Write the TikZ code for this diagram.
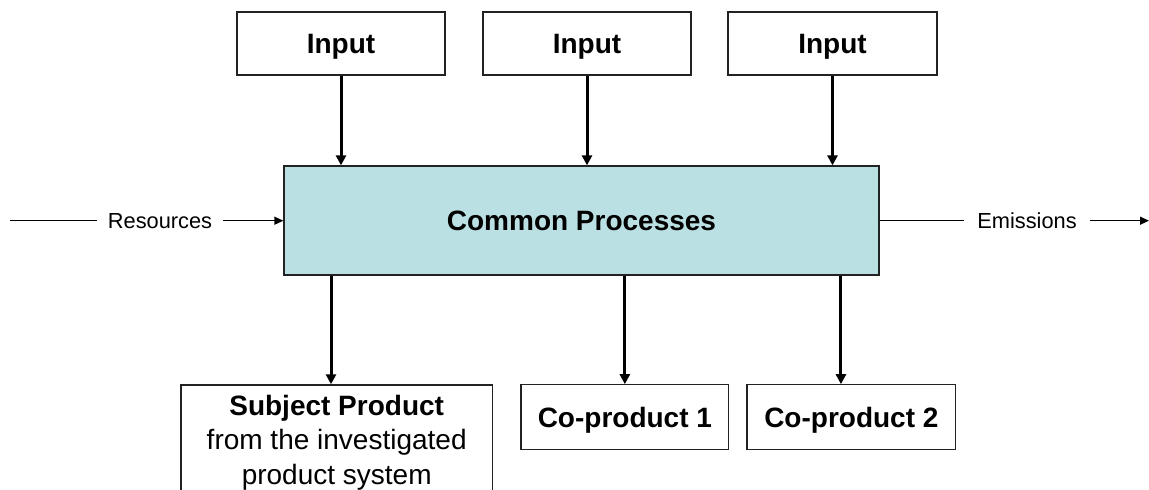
\documentclass[tikz,border=0pt]{standalone}
\usepackage{fontspec}
\setmainfont{Liberation Sans}
\usetikzlibrary{arrows.meta}
\definecolor{procfill}{HTML}{BBE0E3}
\definecolor{edge}{HTML}{222222}
\tikzset{
  box/.style={draw=edge, line width=1.3pt, fill=white, inner sep=0pt},
  boldlabel/.style={font=\fontsize{28}{35}\selectfont\bfseries},
  oneline/.style={text height=20pt, text depth=0pt},
  flowlabel/.style={font=\fontsize{21.8}{26}\selectfont, inner xsep=11pt, inner ysep=0pt},
  thickarrow/.style={line width=3pt, -{Triangle[width=10pt,length=10pt]}},
  thinline/.style={line width=1.3pt},
  thinarrow/.style={line width=1.3pt, -{Triangle[width=8pt,length=9pt]}}
}
\begin{document}
\begin{tikzpicture}[x=1pt, y=-1pt]
\useasboundingbox (0,0) rectangle (1149,490);
\clip (0,0) rectangle (1149,490);

% input boxes
\node[box, boldlabel, oneline, minimum width=208pt, minimum height=63pt] (in1) at (341,43.5) {Input};
\node[box, boldlabel, oneline, minimum width=208pt, minimum height=63pt] (in2) at (587,43.5) {Input};
\node[box, boldlabel, oneline, minimum width=209pt, minimum height=63pt] (in3) at (832.5,43.5) {Input};

% shared process
\node[box, fill=procfill, boldlabel, oneline, minimum width=595pt, minimum height=109pt] (main) at (581.5,220.5) {Common Processes};

% outputs
\node[box, minimum width=311.3pt, minimum height=130pt, anchor=north] (subj) at (336.7,384.3) {};
\node[boldlabel, align=center, anchor=north, inner sep=0pt] (subjtext) at (336.7,395) {Subject Product\\[-1pt]\mdseries from the investigated\\ \mdseries product system};
\node[box, boldlabel, oneline, minimum width=207.7pt, minimum height=64.4pt] (co1) at (624.85,417) {Co-product 1};
\node[box, boldlabel, oneline, minimum width=208.7pt, minimum height=64.4pt] (co2) at (851.35,417) {Co-product 2};

% input flows
\draw[thickarrow] (in1.south) -- (in1.south |- main.north);
\draw[thickarrow] (in2.south) -- (in2.south |- main.north);
\draw[thickarrow] (in3.south) -- (in3.south |- main.north);

% output flows
\draw[thickarrow] ([xshift=-5.7pt]subj.north |- main.south) -- ([xshift=-5.7pt]subj.north);
\draw[thickarrow] (co1.north |- main.south) -- (co1.north);
\draw[thickarrow] ([xshift=-10.4pt]co2.north |- main.south) -- ([xshift=-10.4pt]co2.north);

% resources and emissions
\coordinate (resstart) at (10,220.7);
\node[flowlabel] (res) at (160,220.7) {Resources};
\draw[thinline] (resstart) -- (res.west);
\draw[thinarrow] (res.east) -- (res.east -| main.west);

\coordinate (emiend) at (1149,220.7);
\node[flowlabel, inner xsep=13pt] (emi) at (1027,220.7) {Emissions};
\draw[thinline] (emi.west -| main.east) -- (emi.west);
\draw[thinarrow] (emi.east) -- (emiend);
\end{tikzpicture}
\end{document}
